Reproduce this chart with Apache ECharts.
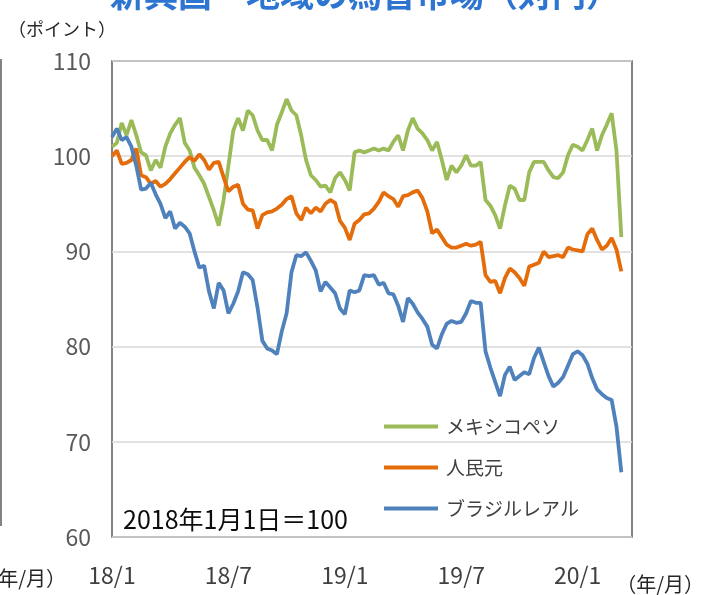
<!DOCTYPE html>
<html>
<head>
<meta charset="utf-8">
<script src="https://cdn.jsdelivr.net/npm/echarts@6/dist/echarts.min.js"></script>
<style>
  html, body { margin: 0; background: #fff; }
  #chart { width: 710px; height: 595px; }
</style>
</head>
<body>
<div id="chart"></div>
<script>
// weekly samples from 2018/1 (one point = a quarter month)
const monthsPerPoint = 0.25
const monthTickLabels = ['18/1', '18/7', '19/1', '19/7', '20/1']
const seriesNames = ['メキシコペソ', '人民元', 'ブラジルレアル']

const mxnValues = [
  101, 101.4, 103.5, 102.2, 103.8, 102.2, 100.4, 100.1, 98.5, 99.6,
  98.8, 101, 102.4, 103.3, 104, 101.4, 100.6, 98.8, 98, 97.1,
  95.7, 94.3, 92.7, 95.4, 99, 102.7, 104, 102.7, 104.8, 104.3,
  102.7, 101.7, 101.7, 100.6, 103.3, 104.6, 106, 104.8, 104.3, 102.2,
  99.6, 98, 97.5, 96.8, 96.9, 96.2, 97.7, 98.3, 97.5, 96.4,
  100.4, 100.6, 100.4, 100.6, 100.8, 100.6, 100.8, 100.6, 101.5, 102.2,
  100.6, 102.7, 104, 102.9, 102.4, 101.7, 100.6, 101.5, 99.6, 97.5,
  99, 98.3, 99, 100.1, 99, 99, 99.4, 95.4, 94.8, 93.8,
  92.4, 94.8, 96.9, 96.6, 95.4, 95.4, 98.3, 99.4, 99.4, 99.4,
  98.5, 97.8, 97.7, 98.3, 100.1, 101.2, 101, 100.6, 101.7, 102.9,
  100.6, 102.2, 103.3, 104.5, 100.6, 91.5
]

const cnyValues = [
  100, 100.6, 99.2, 99.3, 99.6, 100.8, 98, 97.8, 97.1, 97.4,
  96.8, 97.1, 97.6, 98.2, 98.8, 99.4, 99.9, 99.5, 100.2, 99.6,
  98.6, 99.3, 99.4, 97.8, 96.3, 96.8, 97, 95, 94.4, 94.3,
  92.4, 93.8, 94.1, 94.2, 94.5, 94.9, 95.5, 95.8, 94, 93.3,
  94.6, 94, 94.6, 94.2, 95, 95.4, 95.1, 93.2, 92.5, 91.2,
  92.9, 93.3, 93.9, 94, 94.5, 95.2, 96.2, 95.8, 95.5, 94.7,
  95.8, 95.9, 96.2, 96.4, 95.6, 94.2, 91.9, 92.3, 91.5, 90.7,
  90.4, 90.4, 90.6, 90.8, 90.6, 90.7, 91, 87.5, 86.8, 86.9,
  85.6, 87.2, 88.2, 87.8, 87.2, 86.4, 88.4, 88.6, 88.8, 90,
  89.4, 89.5, 89.6, 89.4, 90.4, 90.2, 90.1, 90, 91.8, 92.4,
  91.2, 90.2, 90.6, 91.4, 90.2, 87.9
]

const brlValues = [
  102, 102.9, 101.7, 102, 101, 99, 96.5, 96.6, 97.2, 96,
  95, 93.5, 94.2, 92.4, 93, 92.6, 91.9, 90, 88.3, 88.5,
  85.8, 84, 86.7, 85.9, 83.5, 84.5, 85.8, 87.8, 87.6, 87,
  84.1, 80.6, 79.8, 79.6, 79.2, 81.6, 83.5, 87.8, 89.6, 89.5,
  89.9, 89, 88, 85.8, 86.8, 86.2, 85.6, 84, 83.4, 85.9,
  85.7, 85.9, 87.5, 87.4, 87.5, 86.5, 86.7, 85.6, 85.5, 84.3,
  82.6, 85.1, 84.5, 83.6, 82.9, 82.1, 80.2, 79.8, 81.3, 82.4,
  82.7, 82.5, 82.6, 83.5, 84.8, 84.6, 84.6, 79.5, 77.8, 76.3,
  74.8, 77, 77.9, 76.5, 76.9, 77.3, 77.1, 78.8, 79.9, 78.4,
  76.9, 75.8, 76.2, 76.8, 78, 79.2, 79.5, 79.1, 78.2, 76.7,
  75.5, 75, 74.6, 74.4, 71.6, 66.8
]

const seriesColors = ['#9bbb59', '#e46c0a', '#4f81bd']
const jpFont = '"Noto Sans CJK JP", "Noto Sans", sans-serif'

const toPoints = (values) => values.map((v, i) => [i * monthsPerPoint, v])

const chart = echarts.init(document.getElementById('chart'))

chart.setOption({
  animation: false,
  backgroundColor: '#fff',
  textStyle: { fontFamily: jpFont },
  grid: {
    left: 112,
    right: 78,
    top: 61,
    bottom: 58,
    show: true,
    borderColor: '#595959',
    borderWidth: 1.5,
  },
  xAxis: {
    type: 'value',
    min: 0,
    max: 26.8,
    interval: 6,
    axisLine: { show: false },
    axisTick: { show: false },
    splitLine: { show: false },
    axisLabel: {
      margin: 27,
      fontSize: 23,
      color: '#404040',
      formatter: (v) => (v % 6 === 0 ? monthTickLabels[v / 6] || '' : ''),
    },
  },
  yAxis: {
    type: 'value',
    min: 60,
    max: 110,
    interval: 10,
    axisLine: { show: false },
    axisTick: { show: false },
    axisLabel: { margin: 21, fontSize: 23, color: '#595959' },
    splitLine: { lineStyle: { color: '#d9d9d9', width: 1.5 } },
  },
  legend: {
    orient: 'vertical',
    left: 384,
    top: 417,
    padding: 0,
    itemWidth: 54,
    itemHeight: 4,
    itemGap: 22,
    icon: 'rect',
    data: seriesNames,
    textStyle: { fontSize: 19, color: '#404040', padding: [0, 0, 0, 3] },
  },
  series: [mxnValues, cnyValues, brlValues].map((vals, k) => ({
    name: seriesNames[k],
    type: 'line',
    data: toPoints(vals),
    showSymbol: false,
    color: seriesColors[k],
    lineStyle: { width: 3.8, color: seriesColors[k] },
  })),
  graphic: [
    {
      type: 'text',
      style: {
        x: 365, y: 11,
        text: '新興国・地域の為替市場（対円）',
        font: 'bold 34px ' + jpFont,
        fill: '#2e75d2',
        align: 'center',
        verticalAlign: 'bottom',
      },
    },
    {
      type: 'text',
      style: { x: 8, y: 29, text: '（ポイント）', font: '18px ' + jpFont, fill: '#262626', verticalAlign: 'middle' },
    },
    {
      type: 'text',
      style: { x: 123, y: 519, text: '2018年1月1日＝100', font: '25px ' + jpFont, fill: '#0d0d0d', verticalAlign: 'middle' },
    },
    {
      type: 'text',
      style: { x: 704, y: 584, text: '（年/月）', font: '20px ' + jpFont, fill: '#262626', align: 'right', verticalAlign: 'middle' },
    },
    {
      type: 'text',
      style: { x: 66, y: 578, text: '（年/月）', font: '20px ' + jpFont, fill: '#262626', align: 'right', verticalAlign: 'middle' },
    },
    {
      type: 'line',
      shape: { x1: 1, y1: 59, x2: 1, y2: 526 },
      style: { stroke: '#595959', lineWidth: 1.5 },
    },
  ],
})
</script>
</body>
</html>
